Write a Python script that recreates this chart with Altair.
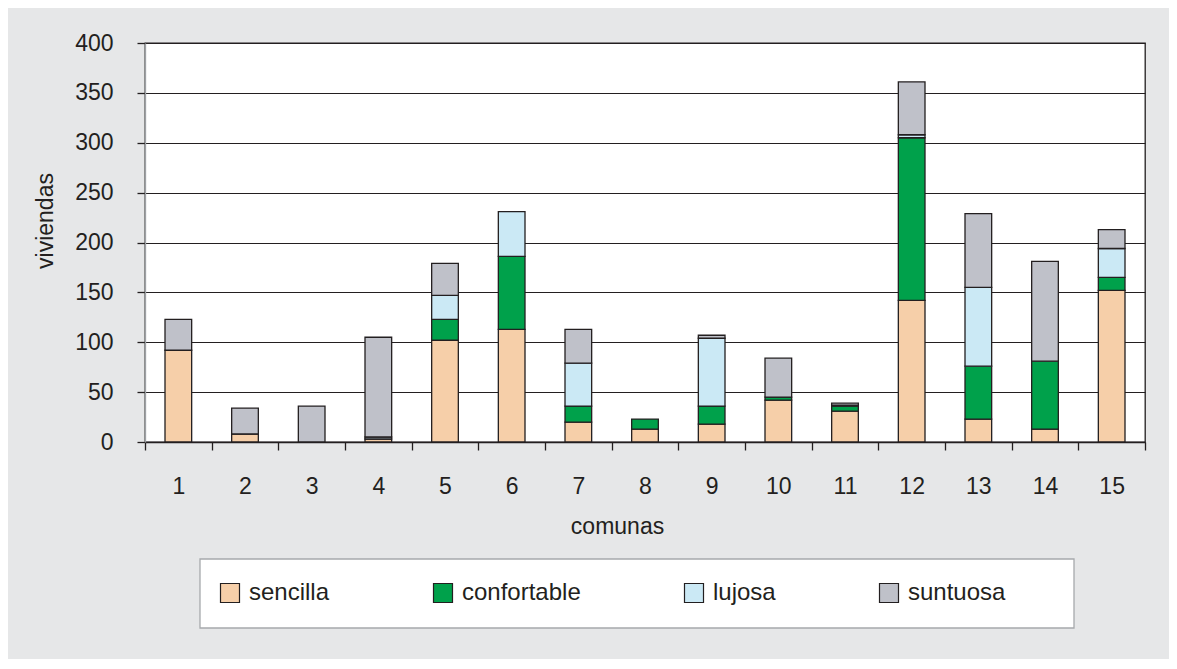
import altair as alt
import pandas as pd

comunas = [str(i) for i in range(1, 16)]
categorias = ["sencilla", "confortable", "lujosa", "suntuosa"]
sencilla = [92, 8, 0, 3, 102, 113, 20, 13, 18, 42, 31, 142, 23, 13, 152]
confortable = [0, 0, 0, 0, 21, 73, 16, 10, 18, 3, 5, 163, 53, 68, 13]
lujosa = [0, 0, 0, 2, 24, 45, 43, 0, 68, 0, 1, 3, 79, 0, 29]
suntuosa = [31, 26, 36, 100, 32, 0, 34, 0, 3, 39, 2, 53, 74, 100, 19]
colores = ["#f6cfa9", "#00a14b", "#cbe9f5", "#bfc1c9"]

series = [sencilla, confortable, lujosa, suntuosa]
rows = []
for k, (cat, vals) in enumerate(zip(categorias, series)):
    for c, v in zip(comunas, vals):
        if v > 0:
            rows.append({"comuna": c, "tipo": cat, "viviendas": v, "orden": k})
df = pd.DataFrame(rows)

DARK = "#231f20"
FONT = "Liberation Sans"

bars = alt.Chart(df).mark_bar(
    width={"band": 0.4}, stroke=DARK, strokeWidth=1.3
).encode(
    x=alt.X(
        "comuna:N",
        sort=comunas,
        scale=alt.Scale(paddingInner=0, paddingOuter=0),
        axis=alt.Axis(
            title="comunas",
            labelAngle=0,
            labelFontSize=23,
            labelPadding=25,
            tickSize=8,
            tickColor=DARK,
            tickWidth=1.3,
            domainColor=DARK,
            domainWidth=1.3,
            tickBand="extent",
            grid=False,
            titleFontSize=23,
            titleFontWeight="normal",
            titleX=472,
            titleY=91,
            titleBaseline="alphabetic",
            titleAlign="center",
        ),
    ),
    y=alt.Y(
        "viviendas:Q",
        stack="zero",
        scale=alt.Scale(domain=[0, 400], nice=False),
        axis=alt.Axis(
            title="viviendas",
            values=list(range(0, 401, 50)),
            labelFontSize=23,
            labelPadding=24,
            tickSize=8,
            tickColor=DARK,
            tickWidth=1.3,
            grid=True,
            gridColor=DARK,
            gridWidth=1.2,
            domainColor="#9da0a4",
            domainWidth=1.3,
            titleFontSize=23,
            titleFontWeight="normal",
            titleX=-93,
            titleY=177.5,
            titleAngle=270,
            titleBaseline="alphabetic",
            titleAlign="center",
        ),
    ),
    color=alt.Color(
        "tipo:N",
        sort=categorias,
        scale=alt.Scale(domain=categorias, range=colores),
        legend=alt.Legend(
            title=None,
            orient="none",
            direction="horizontal",
            columns=4,
            legendX=73,
            legendY=538,
            symbolType="square",
            symbolSize=361,
            symbolStrokeColor=DARK,
            symbolStrokeWidth=1.2,
            labelFontSize=24,
            labelFont=FONT,
            labelColor=DARK,
            labelOffset=7,
            columnPadding=101,
            padding=0,
        ),
    ),
    order=alt.Order("orden:Q", sort="ascending"),
)

box = alt.Chart(pd.DataFrame({"k": [0]})).mark_rect(
    fill="white", stroke="#a7a9ac", strokeWidth=1.3
).encode(
    x=alt.value(55), x2=alt.value(929), y=alt.value(516), y2=alt.value(585)
)

chart = alt.layer(box, bars).properties(
    width=1000,
    height=399,
    padding={"left": 137, "top": 35, "right": 24, "bottom": 217},
    autosize=alt.AutoSizeParams(type="none"),
    background="#e6e7e8",
).configure_view(
    fill="white", stroke=DARK, strokeWidth=1.3
).configure_axis(
    labelFont=FONT, titleFont=FONT, labelColor=DARK, titleColor=DARK
)

chart.save("out.html", embed_options={"renderer": "svg", "actions": False})
